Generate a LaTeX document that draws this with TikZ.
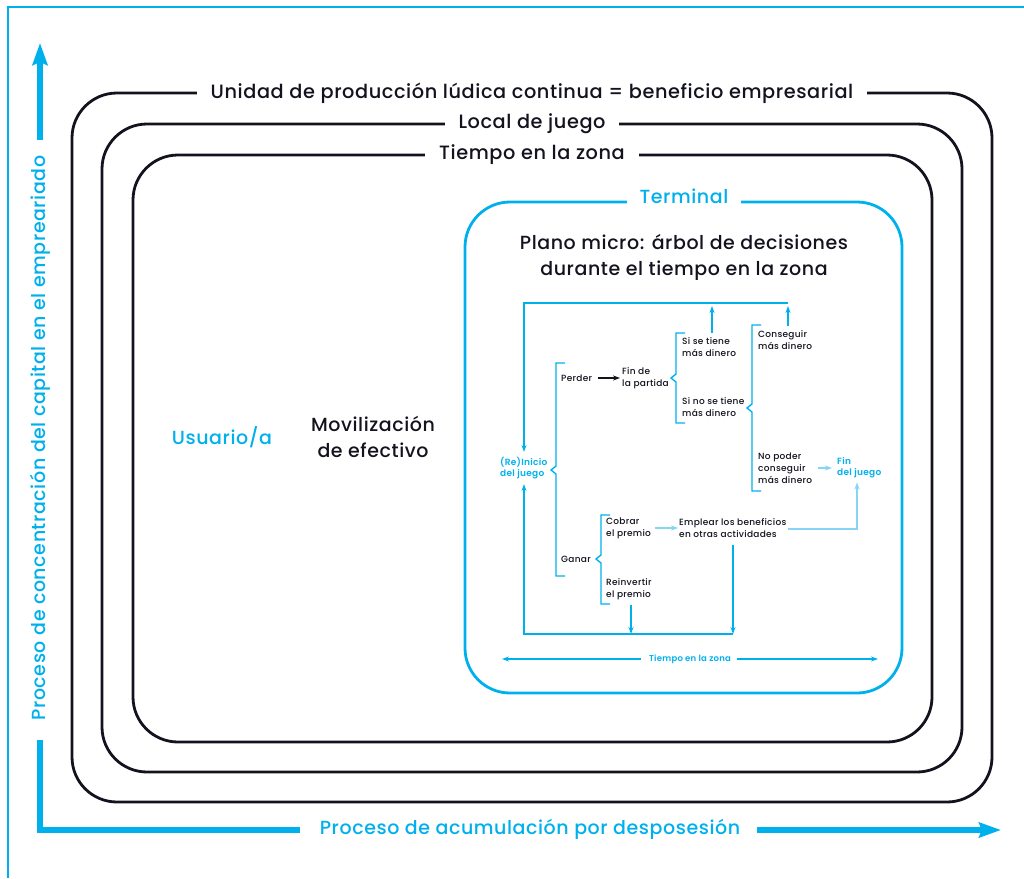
\documentclass[tikz,border=0pt]{standalone}
\usepackage{fontspec}
\setmainfont{Poppins}[UprightFont=* Medium, BoldFont=* SemiBold, LetterSpace=3]
\usetikzlibrary{arrows.meta}
\definecolor{cy}{HTML}{00B0EC}
\definecolor{lcy}{HTML}{86D5F4}
\definecolor{ink}{HTML}{13131F}
\newcommand\brk[4]{\draw[cy,line width=1.4pt] ({#1+9},#2) -- (#1,#2) -- (#1,{#3-4}) -- ({#1-5},#3) -- (#1,{#3+4}) -- (#1,#4) -- ({#1+9},#4);}
\begin{document}
\begin{tikzpicture}[x=1pt,y=-1pt,
  frame/.style={draw=ink,line width=2.8pt,rounded corners=45pt},
  lbl/.style={fill=white,inner xsep=14pt,inner ysep=3pt,text=ink,font=\fontsize{19.3}{20}\selectfont},
  big/.style={text=ink,align=center,inner sep=0pt,font=\fontsize{19}{26}\selectfont},
  tr/.style={text=ink,align=left,inner sep=0pt,anchor=west,font=\fontsize{9}{12}\selectfont},
  trb/.style={tr,text=cy,font=\fontsize{9}{11}\selectfont\bfseries},
  ca/.style={draw=cy,line width=1.4pt,-{Stealth[length=7pt,width=5pt]}},
  la/.style={draw=lcy,line width=1.4pt,-{Stealth[length=7pt,width=5pt]}},
  axis/.style={draw=cy,line width=5.5pt},
  axa/.style={axis,-{Stealth[length=22pt,width=15pt,inset=3pt]}},
  axl/.style={text=cy,inner sep=0pt,font=\fontsize{19}{20}\selectfont}]
\useasboundingbox (0,0) rectangle (1024,878);
% outer L frame
\draw[cy,line width=2.8pt] (1024,7) -- (8,7) -- (8,878);
% axes
\node[axl,rotate=90] (yl) at (40,438) {Proceso de concentración del capital en el empreariado};
\node[axl] (xl) at (530,829) {Proceso de acumulación por desposesión};
\coordinate (ytip) at (40,43);
\coordinate (ytop) at (40,140);
\coordinate (ybot) at (40,740);
\coordinate (corner) at (40,830);
\coordinate (xstart) at (300,830);
\coordinate (xend) at (757,830);
\coordinate (xtip) at (1001,830);
\draw[axis,line join=miter] (ybot) -- (corner) -- (xstart);
\draw[axa] (ytop) -- (ytip);
\draw[axa] (xend) -- (xtip);
% nested frames
\draw[frame] (72,93) rectangle (992,802);
\draw[frame] (102,124) rectangle (962,772);
\draw[frame] (133,155) rectangle (932,742);
\node[lbl] (l1) at (532,93) {Unidad de producción lúdica continua = beneficio empresarial};
\node[lbl] (l2) at (532,124) {Local de juego};
\node[lbl] (l3) at (532,155) {Tiempo en la zona};
% terminal
\draw[cy,line width=2.8pt,rounded corners=45pt] (465,202) rectangle (902,693);
\node[lbl,text=cy,inner xsep=13pt,font=\fontsize{19}{20}\selectfont] (term) at (684,196) {Terminal};
\node[big] (plano) at (684,257) {Plano micro: árbol de decisiones\\durante el tiempo en la zona};
\node[big,text=cy] (usu) at (222,437) {Usuario/a};
\node[big] (movil) at (373,437) {Movilización\\de efectivo};
% decision tree
\node[trb] (ini) at (500,468) {(Re)Inicio\\del juego};
\node[tr] (perder) at (561,378) {Perder};
\node[tr] (finp) at (622,378) {Fin de\\la partida};
\node[tr] (sit) at (682,347) {Si se tiene\\más dinero};
\node[tr] (sint) at (682,407) {Si no se tiene\\más dinero};
\node[tr] (cons) at (758,340) {Conseguir\\más dinero};
\node[tr] (nop) at (758,468) {No poder\\conseguir\\más dinero};
\node[trb] (finj) at (837,468) {Fin\\del juego};
\node[tr] (ganar) at (561,559) {Ganar};
\node[tr] (cob) at (606,528) {Cobrar\\el premio};
\node[tr] (rein) at (606,589) {Reinvertir\\el premio};
\node[tr] (empl) at (679,528) {Emplear los beneficios\\en otras actividades};
\brk{556}{363}{470}{576}
\brk{676}{333}{378}{423}
\brk{752}{325}{408}{491}
\brk{601}{515}{559}{604}
% connectors
\coordinate (tl) at (524,303);
\coordinate (tr) at (788,303);
\coordinate (bl) at (524,634);
\coordinate (br) at (733,634);
\coordinate (sitop) at (712,333);
\coordinate (sitip) at (712,306);
\coordinate (cotop) at (788,326);
\coordinate (cotip) at (788,306);
\coordinate (emb) at (733,545);
\coordinate (reb) at (631,605);
\coordinate (ret) at (631,634);
\coordinate (emr) at (788,529);
\coordinate (fjc) at (857,529);
\draw[-{Stealth[length=7pt,width=5pt]},draw=ink,line width=1.1pt,shorten <=6pt,shorten >=2pt] (perder.east) -- (finp.west);
\draw[ca,shorten >=5pt] (tr) -- (tl) -- (tl |- ini.north);
\draw[ca] (sitop) -- (sitip);
\draw[ca] (cotop) -- (cotip);
\draw[ca,shorten >=5pt] (br) -- (bl) -- (bl |- ini.south);
\draw[ca] (emb) -- (br);
\draw[ca] (reb) -- (ret);
\draw[la,shorten <=4pt,shorten >=1pt] (cob.east) -- (empl.west);
\draw[la,shorten >=4pt] (emr) -- (fjc) -- (fjc |- finj.south);
\draw[la,shorten <=6pt,shorten >=5pt] (nop.east) -- (finj.west);
% time axis in terminal
\node[trb,anchor=center,font=\fontsize{8.5}{10}\selectfont\bfseries] (tz) at (690,659) {Tiempo en la zona};
\coordinate (tzl) at (502,659);
\coordinate (tzr) at (878,659);
\draw[ca,line width=1.8pt,shorten <=8pt] (tz.west) -- (tzl);
\draw[ca,line width=1.8pt,shorten <=6pt] (tz.east) -- (tzr);
\end{tikzpicture}
\end{document}
